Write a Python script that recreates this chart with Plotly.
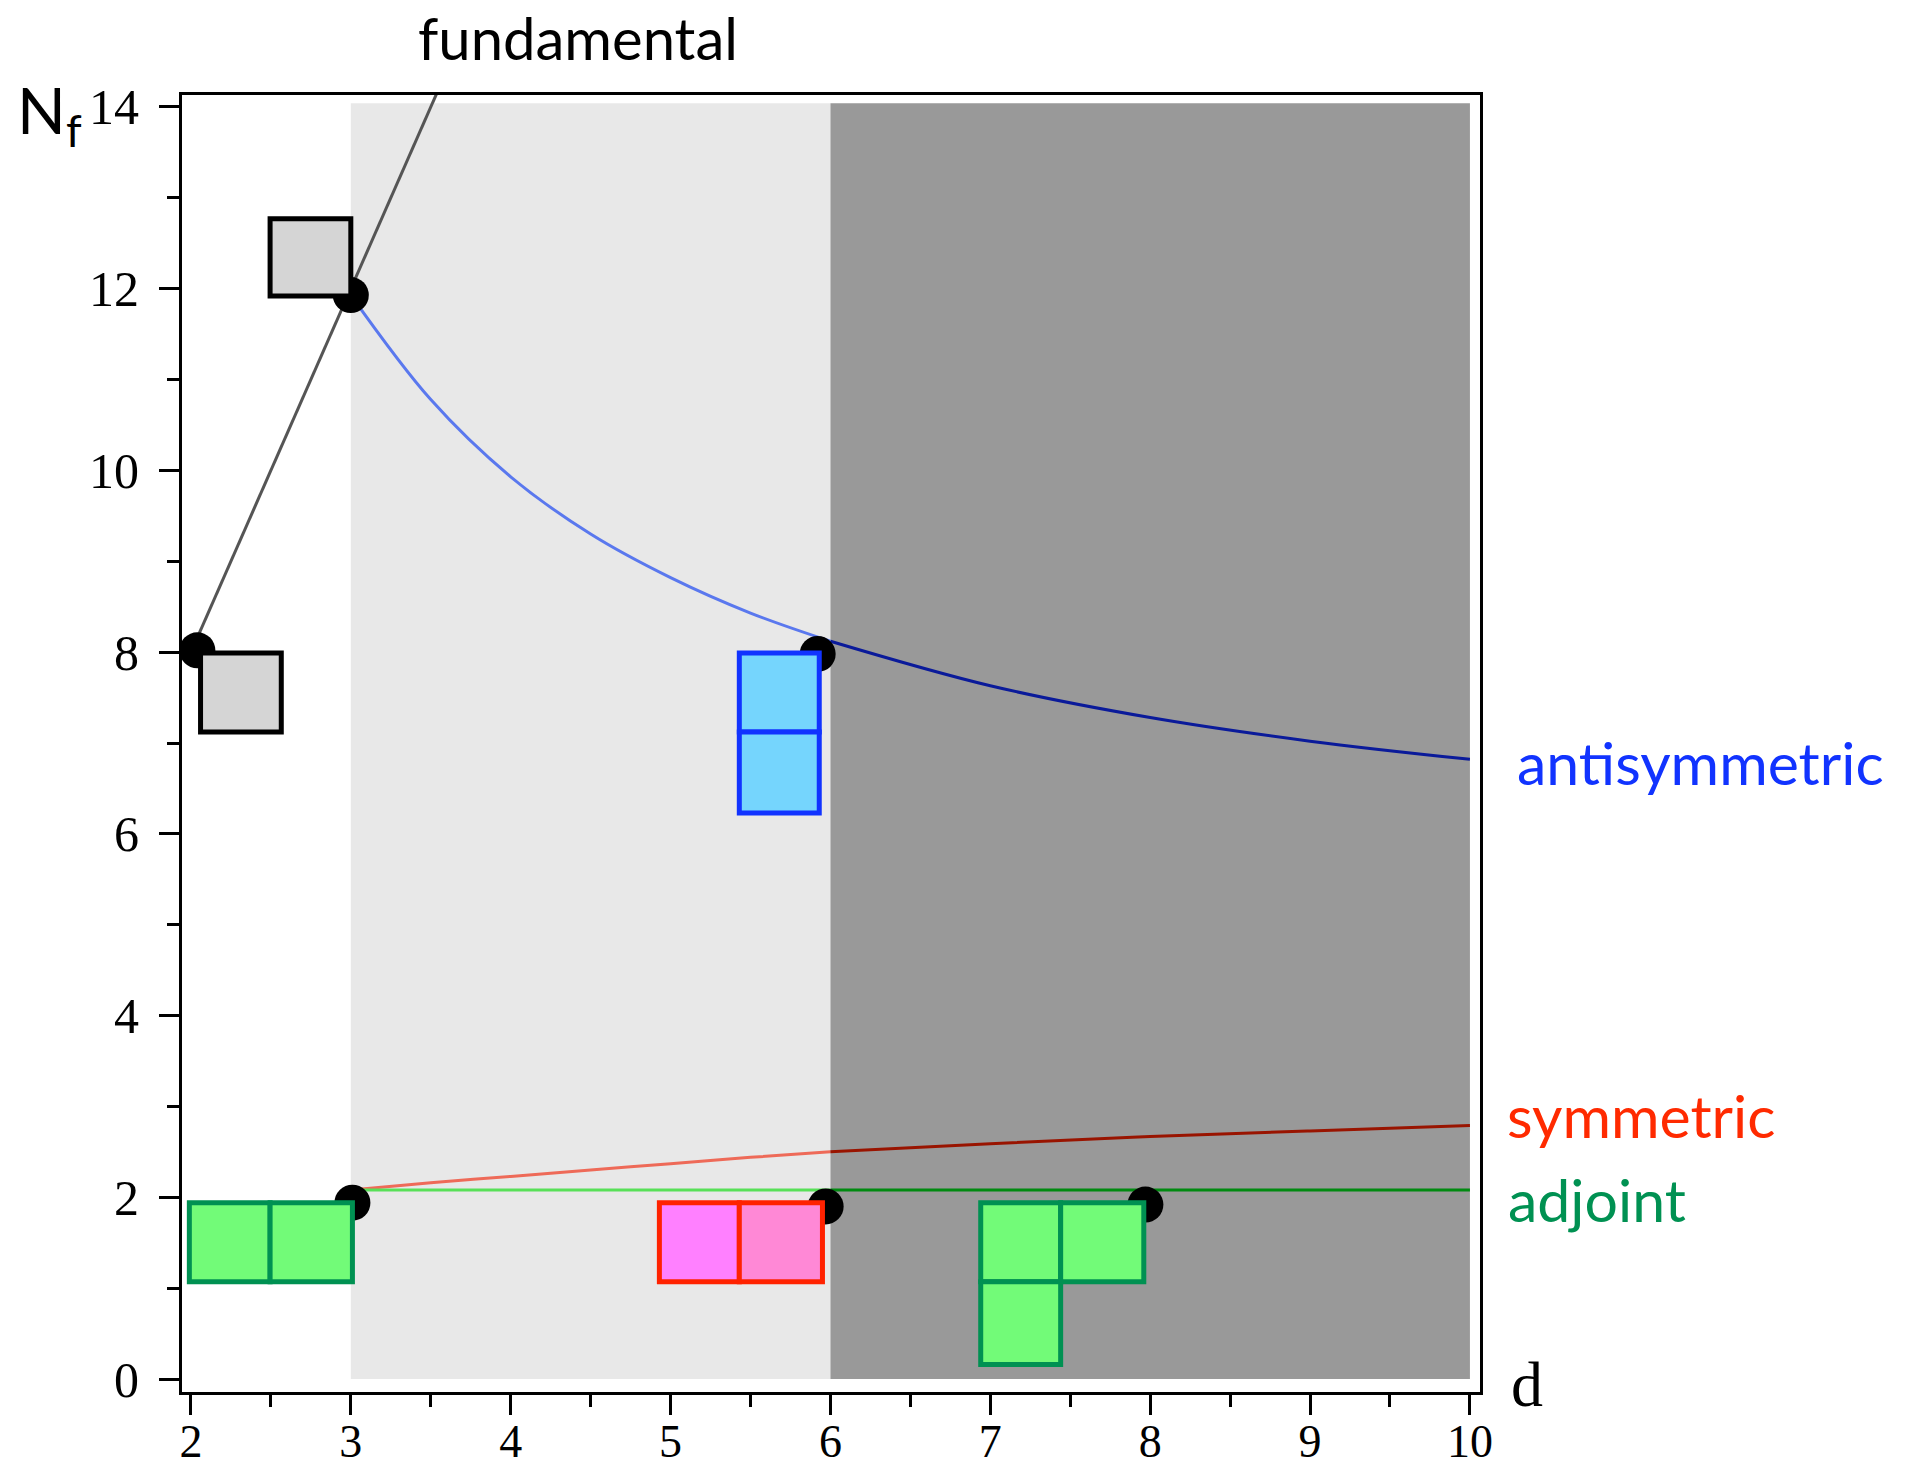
import plotly.graph_objects as go

# ---------------- data ----------------
# shaded regions (d ranges)
light_region_d = [3, 6]
dark_region_d = [6, 10]
region_nf = [0, 14.04]

# fundamental line
fund_d = [2.0, 3.0, 3.6]
fund_nf = [8.0, 12.0, 14.4]

# antisymmetric curve
anti_d = [3, 3.5, 4, 4.5, 5, 5.5, 6, 7, 8, 9, 10]
anti_nf = [11.93, 10.78, 9.93, 9.30, 8.82, 8.43, 8.12, 7.63, 7.28, 7.02, 6.82]

# symmetric curve
sym_d = [3, 3.5, 4, 4.5, 5, 5.5, 6, 7, 8, 9, 10]
sym_nf = [2.08, 2.16, 2.23, 2.30, 2.37, 2.44, 2.50, 2.59, 2.67, 2.73, 2.79]

# adjoint line
adj_d = [3, 6, 10]
adj_nf = [2.08, 2.08, 2.08]

# black dots
dot_d = [2.04, 3.0, 5.92, 3.01, 5.97, 7.97]
dot_nf = [8.02, 11.93, 7.98, 1.94, 1.90, 1.92]

# Young-tableau boxes
box_x0 = [2.495, 2.06, 5.43, 5.43, 1.99, 2.495, 4.93, 5.43, 6.94, 7.44, 6.94]
box_x1 = [3.00, 2.565, 5.93, 5.93, 2.495, 3.01, 5.43, 5.95, 7.44, 7.96, 7.44]
box_y0 = [11.92, 7.12, 7.12, 6.23, 1.07, 1.07, 1.07, 1.07, 1.07, 1.07, 0.16]
box_y1 = [12.77, 7.99, 7.99, 7.12, 1.94, 1.94, 1.94, 1.94, 1.94, 1.94, 1.07]
box_fill = ["#d5d5d5", "#d5d5d5", "#75d5fd", "#75d5fd", "#72fb78", "#72fb78",
            "#ff80ff", "#ff88d6", "#72fb78", "#72fb78", "#72fb78"]
box_line = ["#000000", "#000000", "#1133ff", "#1133ff", "#009152", "#009152",
            "#ff2200", "#ff2200", "#009152", "#009152", "#009152"]

x_ticks = [2, 3, 4, 5, 6, 7, 8, 9, 10]
y_ticks = [0, 2, 4, 6, 8, 10, 12, 14]

# ---------------- figure ----------------
fig = go.Figure()

def split(ds, vs, at):
    a = [(d, v) for d, v in zip(ds, vs) if d <= at]
    b = [(d, v) for d, v in zip(ds, vs) if d >= at]
    return ([p[0] for p in a], [p[1] for p in a]), ([p[0] for p in b], [p[1] for p in b])

fig.add_trace(go.Scatter(x=fund_d, y=fund_nf, mode="lines",
                         line=dict(color="#555555", width=3), hoverinfo="skip"))

for ds, vs, c1, c2 in [(anti_d, anti_nf, "#5a78ee", "#0a1a9a"),
                       (sym_d, sym_nf, "#ee6a58", "#991400"),
                       (adj_d, adj_nf, "#58e058", "#008a10")]:
    (d1, v1), (d2, v2) = split(ds, vs, 6)
    fig.add_trace(go.Scatter(x=d1, y=v1, mode="lines", line=dict(color=c1, width=3, shape="spline"),
                             hoverinfo="skip"))
    fig.add_trace(go.Scatter(x=d2, y=v2, mode="lines", line=dict(color=c2, width=3, shape="spline"),
                             hoverinfo="skip"))

for x0, x1, y0, y1, fc, lc in zip(box_x0, box_x1, box_y0, box_y1, box_fill, box_line):
    fig.add_shape(type="rect", xref="x", yref="y", x0=x0, x1=x1, y0=y0, y1=y1,
                  fillcolor=fc, line=dict(color=lc, width=5), layer="above")

fig.add_trace(go.Scatter(x=dot_d, y=dot_nf, mode="markers",
                         marker=dict(color="black", size=36, line=dict(width=0)),
                         hoverinfo="skip", cliponaxis=False))

fig.add_shape(type="rect", xref="x", yref="y", x0=light_region_d[0], x1=light_region_d[1],
              y0=region_nf[0], y1=region_nf[1], fillcolor="#e8e8e8", line=dict(width=0), layer="below")
fig.add_shape(type="rect", xref="x", yref="y", x0=dark_region_d[0], x1=dark_region_d[1],
              y0=region_nf[0], y1=region_nf[1], fillcolor="#999999", line=dict(width=0), layer="below")

sans = "Lato, 'Noto Sans', sans-serif"
serif = "'Liberation Serif', 'DejaVu Serif', serif"

fig.add_annotation(text="fundamental", xref="paper", yref="paper", x=0.305, y=1.044,
                   xanchor="center", yanchor="middle",
                   showarrow=False, font=dict(family=sans, size=58, color="black"))
fig.add_annotation(text="N<sub>f</sub>", xref="paper", yref="paper", x=-0.102, y=0.985,
                   xanchor="center", yanchor="middle",
                   showarrow=False, font=dict(family=sans, size=64, color="black"))
fig.add_annotation(text="d", xref="paper", yref="paper", x=1.036, y=0.006,
                   xanchor="center", yanchor="middle",
                   showarrow=False, font=dict(family=serif, size=64, color="black"))
fig.add_annotation(text="antisymmetric", xref="paper", yref="y", x=1.027, y=6.78, xanchor="left",
                   yanchor="middle",
                   showarrow=False, font=dict(family=sans, size=59, color="#1133ff"))
fig.add_annotation(text="symmetric", xref="paper", yref="y", x=1.019, y=2.9, xanchor="left",
                   yanchor="middle",
                   showarrow=False, font=dict(family=sans, size=59, color="#ff2a00"))
fig.add_annotation(text="adjoint", xref="paper", yref="y", x=1.020, y=1.98, xanchor="left",
                   yanchor="middle",
                   showarrow=False, font=dict(family=sans, size=59, color="#009152"))

axis_common = dict(showgrid=False, zeroline=False, showline=True, linecolor="black", linewidth=3,
                   mirror=True, ticks="outside", tickwidth=3, tickcolor="black", ticklen=20,
                   automargin=False)

fig.update_xaxes(range=[1.944, 10.063], tickvals=x_ticks, ticktext=[str(t) for t in x_ticks],
                 tickfont=dict(family=serif, size=46, color="black"),
                 minor=dict(dtick=0.5, tick0=2, ticks="outside", ticklen=12, tickwidth=3, tickcolor="black"),
                 ticklabelstandoff=-13, **axis_common)
fig.update_yaxes(range=[-0.143, 14.132], tickvals=y_ticks, ticktext=[str(t) for t in y_ticks],
                 tickfont=dict(family=serif, size=50, color="black"),
                 minor=dict(dtick=1, tick0=0, ticks="outside", ticklen=12, tickwidth=3, tickcolor="black"),
                 ticklabelstandoff=10, **axis_common)

fig.update_layout(width=1909, height=1467, showlegend=False,
                  margin=dict(l=182, r=429, t=95, b=75),
                  plot_bgcolor="white", paper_bgcolor="white")

fig.write_html("out.html")
